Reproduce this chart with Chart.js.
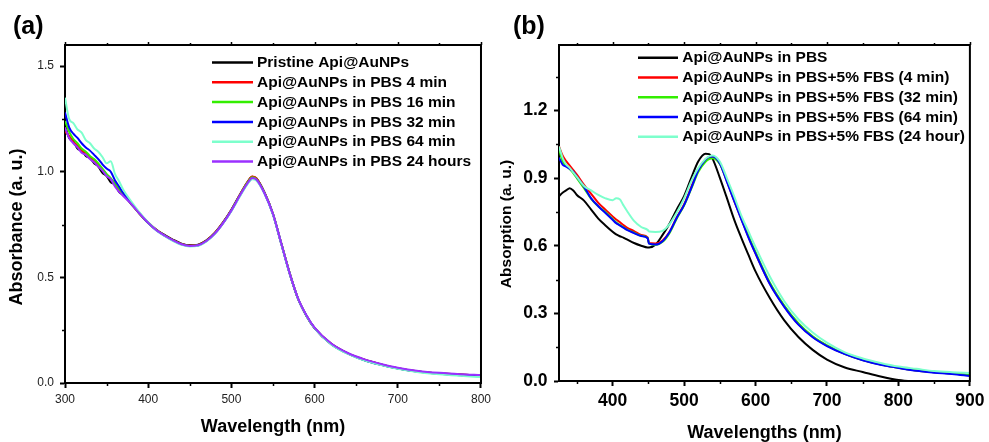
<!DOCTYPE html>
<html><head><meta charset="utf-8">
<script src="https://cdn.jsdelivr.net/npm/chart.js@4.4.0/dist/chart.umd.min.js"></script>
<style>
html,body{margin:0;padding:0;background:#fff;}
#wrap{position:relative;width:989px;height:442px;overflow:hidden;background:#fff;}
canvas{position:absolute;top:0;}
#ca{left:0;}
#cb{left:495px;}
</style></head><body>
<div id="wrap"><canvas id="ca" width="495" height="442"></canvas><canvas id="cb" width="494" height="442"></canvas></div>
<script>
// ---------- Panel (a) data ----------
const wavelengthA = [300,305,310,315,320,325,330,335,340,345,350,355,360,365,370,380,390,400,410,420,430,440,450,460,470,480,490,500,510,520,525,530,540,550,560,570,580,590,600,620,640,660,680,700,725,750,775,800];
const pristineA = [1.22,1.16,1.145,1.11,1.10,1.075,1.065,1.04,1.025,0.995,0.98,0.95,0.94,0.905,0.89, 0.845,0.80,0.76,0.725,0.70,0.678,0.66,0.652,0.655,0.675,0.71,0.76,0.82,0.89,0.955, 0.976,0.968, 0.90,0.80,0.66,0.52,0.40,0.32,0.26, 0.185,0.14,0.11,0.088,0.07, 0.055,0.046,0.04,0.035];
const pbs4minA = [1.19,1.17,1.14,1.125,1.10,1.09,1.065,1.055,1.03,1.01,0.985,0.965,0.945,0.915,0.895, 0.848,0.80,0.758,0.724,0.698,0.676,0.658,0.65,0.653,0.674,0.71,0.76,0.82,0.89,0.956, 0.978,0.97, 0.90,0.80,0.66,0.52,0.40,0.32,0.26, 0.185,0.14,0.11,0.088,0.07, 0.055,0.046,0.04,0.035];
const pbs16minA = [1.24,1.19,1.155,1.135,1.11,1.095,1.075,1.06,1.04,1.015,0.99,0.97,0.945,0.92,0.895, 0.848,0.80,0.757,0.723,0.697,0.675,0.657,0.649,0.652,0.673,0.708,0.758,0.818,0.888,0.953, 0.974,0.966, 0.899,0.80,0.66,0.52,0.40,0.32,0.26, 0.184,0.139,0.108,0.086,0.068, 0.053,0.044,0.038,0.033];
const pbs32minA = [1.28,1.21,1.18,1.16,1.135,1.115,1.10,1.08,1.06,1.035,1.015,1.00,0.96,0.93,0.90, 0.85,0.802,0.758,0.722,0.696,0.674,0.656,0.648,0.651,0.672,0.707,0.757,0.816,0.885,0.948, 0.968,0.962, 0.896,0.798,0.658,0.518,0.40,0.32,0.26, 0.184,0.139,0.108,0.086,0.068, 0.053,0.044,0.037,0.032];
const pbs64minA = [1.35,1.25,1.23,1.20,1.185,1.15,1.135,1.11,1.095,1.07,1.04,1.05,0.99,0.955,0.915, 0.858,0.805,0.76,0.722,0.695,0.672,0.654,0.646,0.649,0.67,0.705,0.755,0.814,0.882,0.945, 0.965,0.958, 0.895,0.797,0.658,0.518,0.40,0.32,0.26, 0.183,0.138,0.107,0.085,0.067, 0.051,0.041,0.034,0.028];
const pbs24hA = [1.21,1.16,1.135,1.115,1.09,1.08,1.06,1.045,1.025,1.005,0.98,0.965,0.93,0.905,0.885, 0.846,0.80,0.758,0.723,0.697,0.675,0.657,0.649,0.652,0.672,0.707,0.757,0.817,0.886,0.95, 0.97,0.963, 0.897,0.80,0.66,0.52,0.402,0.322,0.262, 0.187,0.142,0.112,0.09,0.072, 0.057,0.048,0.042,0.038];
const labelsA = ['Pristine Api@AuNPs','Api@AuNPs in PBS 4 min','Api@AuNPs in PBS 16 min','Api@AuNPs in PBS 32 min','Api@AuNPs in PBS 64 min','Api@AuNPs in PBS 24 hours'];
const xTicksA = [300,400,500,600,700,800];
const yTicksA = [0.0,0.5,1.0,1.5];

// ---------- Panel (b) data ----------
const wavelengthB = [325,330,335,340,345,350,360,370,380,390,400,405,410,415,420,430,440,449,451,460,470,480,490,500,510,520,530,535,540,550,560,570,580,590,600,620,640,660,680,700,725,750,775,800,825,850,875,900];
const pbsB = [0.82,0.835,0.845,0.855,0.845,0.825, 0.80,0.76,0.72,0.69,0.662, 0.65,0.642,0.636,0.628, 0.612,0.60, 0.592,0.592, 0.604,0.648,0.70,0.762,0.82,0.90,0.975,1.008, 1.006, 0.985,0.902,0.811,0.717,0.636,0.56,0.486, 0.368,0.27,0.195,0.138,0.095, 0.06,0.04,0.02,0.004,-0.004,-0.01,-0.015,-0.02];
const fbs4minB = [1.04,1.0,0.975,0.955,0.935,0.915, 0.87,0.83,0.79,0.76,0.73, 0.716,0.705,0.692,0.68, 0.665,0.648, 0.637,0.612, 0.61,0.623,0.663,0.727,0.783,0.86,0.937,0.982, 0.993, 0.995,0.965,0.886,0.80,0.72,0.64,0.566, 0.432,0.332,0.252,0.196,0.157, 0.12,0.093,0.073,0.059,0.047,0.039,0.033,0.026];
const fbs32minB = [1.03,0.975,0.955,0.94,0.922,0.90, 0.855,0.808,0.775,0.748,0.718, 0.703,0.692,0.682,0.672, 0.658,0.644, 0.634,0.61, 0.603,0.617,0.658,0.722,0.778,0.852,0.928,0.972, 0.984, 0.988,0.962,0.89,0.805,0.725,0.645,0.572, 0.437,0.336,0.256,0.198,0.158, 0.121,0.093,0.073,0.059,0.047,0.039,0.033,0.026];
const fbs64minB = [0.99,0.96,0.95,0.94,0.928,0.905, 0.862,0.81,0.775,0.745,0.715, 0.70,0.69,0.68,0.67, 0.656,0.643, 0.633,0.609, 0.605,0.62,0.662,0.725,0.78,0.855,0.935,0.982, 0.994, 0.996,0.966,0.883,0.80,0.718,0.637,0.565, 0.43,0.33,0.25,0.194,0.155, 0.119,0.092,0.072,0.058,0.045,0.037,0.031,0.022];
const fbs24hB = [1.04,0.99,0.96,0.945,0.925,0.905, 0.865,0.845,0.825,0.81,0.802, 0.81,0.806,0.78,0.755, 0.71,0.683, 0.67,0.663, 0.661,0.666,0.697,0.748,0.81,0.885,0.945,0.985, 0.996, 1.0,0.973,0.899,0.82,0.735,0.664,0.594, 0.463,0.355,0.274,0.215,0.17, 0.127,0.10,0.08,0.064,0.054,0.044,0.039,0.036];
const labelsB = ['Api@AuNPs in PBS','Api@AuNPs in PBS+5% FBS (4 min)','Api@AuNPs in PBS+5% FBS (32 min)','Api@AuNPs in PBS+5% FBS (64 min)','Api@AuNPs in PBS+5% FBS (24 hour)'];
const xTicksB = [400,500,600,700,800,900];
const yTicksB = [0.0,0.3,0.6,0.9,1.2];

// ---------- styling ----------
const FONT = '"Liberation Sans", Arial, Helvetica, sans-serif';
const colorsA = ['#000000','#ff0000','#33ee00','#0000ff','#7dffcc','#9b30ff'];
const colorsB = ['#000000','#ff0000','#33ee00','#0000ff','#7dffcc'];

function toPoints(xs, ys){ return xs.map((x,i)=>({x:x, y:ys[i]})); }

const decor = {
  id: 'decor',
  afterDatasetsDraw(chart, args, o) {
    const {ctx, chartArea: a, scales: {x, y}} = chart;
    ctx.save();
    ctx.strokeStyle = '#000';
    ctx.lineWidth = 2;
    ctx.beginPath();
    ctx.moveTo(a.left - 1, a.top); ctx.lineTo(a.right, a.top); ctx.lineTo(a.right, a.bottom + 1);
    ctx.stroke();
    ctx.lineWidth = 1.5;
    ctx.beginPath();
    for (let v = Math.ceil(x.min / o.xMinor) * o.xMinor; v <= x.max + 1e-9; v += o.xMinor) {
      const px = Math.round(x.getPixelForValue(v)) + 0.5;
      const major = Math.abs(v / o.xMajor - Math.round(v / o.xMajor)) < 1e-6;
      if (!major) { ctx.moveTo(px, a.bottom); ctx.lineTo(px, a.bottom + 3); }
      ctx.moveTo(px, a.top); ctx.lineTo(px, a.top - (major ? 3 : 2));
    }
    for (let v = Math.ceil(y.min / o.yMinor) * o.yMinor; v <= y.max + 1e-9; v += o.yMinor) {
      const major = Math.abs(v / o.yMajor - Math.round(v / o.yMajor)) < 1e-6;
      if (major) continue;
      const py = Math.round(y.getPixelForValue(v)) + 0.5;
      ctx.moveTo(a.left, py); ctx.lineTo(a.left - 3, py);
    }
    ctx.stroke();
    ctx.restore();
  },
  afterDraw(chart, args, o) {
    const ctx = chart.ctx;
    ctx.save();
    // legend
    ctx.font = 'bold ' + o.legendSize + 'px ' + FONT;
    ctx.textBaseline = 'middle';
    ctx.textAlign = 'left';
    chart.data.datasets.forEach((ds, i) => {
      const yy = o.legendY + i * o.legendGap;
      ctx.strokeStyle = ds.borderColor;
      ctx.lineWidth = 2.5;
      ctx.beginPath(); ctx.moveTo(o.legendX1, yy); ctx.lineTo(o.legendX2, yy); ctx.stroke();
      ctx.fillStyle = '#000';
      ctx.fillText(ds.label, o.legendTextX, yy + 0.5);
    });
    // y-axis title
    ctx.save();
    ctx.font = 'bold ' + o.yTitleSize + 'px ' + FONT;
    ctx.textAlign = 'center';
    ctx.textBaseline = 'middle';
    ctx.translate(o.yTitleX, o.yTitleY);
    ctx.rotate(-Math.PI / 2);
    ctx.fillText(o.yTitle, 0, 0);
    ctx.restore();
    // panel label
    ctx.font = 'bold 25px ' + FONT;
    ctx.textBaseline = 'alphabetic';
    ctx.textAlign = 'left';
    ctx.fillStyle = '#000';
    ctx.fillText(o.panel, o.panelX, o.panelY);
    ctx.restore();
  }
};

function makeChart(id, xs, series, labels, colors, opt) {
  const n = series.length;
  const datasets = series.map((s, i) => ({
    label: labels[i], data: toPoints(xs, s), borderColor: colors[i], backgroundColor: colors[i],
    borderWidth: 2, pointRadius: 0, fill: false, cubicInterpolationMode: 'monotone', order: n - i
  }));
  return new Chart(document.getElementById(id), {
    type: 'line',
    data: { datasets },
    plugins: [decor],
    options: {
      responsive: false, animation: false, devicePixelRatio: 1,
      layout: { padding: opt.padding },
      plugins: { legend: { display: false }, tooltip: { enabled: false }, decor: opt.decor },
      scales: {
        x: {
          type: 'linear', min: opt.xMin, max: opt.xMax,
          afterBuildTicks: s => { s.ticks = opt.xTicks.map(v => ({ value: v })); },
          afterFit: s => { s.height = opt.xHeight; },
          grid: { display: true, drawOnChartArea: false, drawTicks: true, tickLength: 5, tickWidth: 2, tickColor: '#000' },
          border: { display: true, color: '#000', width: 2 },
          ticks: { font: opt.tickFont, color: opt.tickColor, padding: opt.xTickPad, maxRotation: 0, autoSkip: false, callback: v => String(v) },
          title: { display: true, text: opt.xTitle, color: '#000', font: { family: FONT, size: opt.xTitleSize, weight: 'bold', lineHeight: 1 }, padding: { top: 0, bottom: opt.xTitlePad } }
        },
        y: {
          type: 'linear', min: opt.yMin, max: opt.yMax,
          afterBuildTicks: s => { s.ticks = opt.yTicks.map(v => ({ value: v })); },
          afterFit: s => { s.width = opt.yWidth; },
          grid: { display: true, drawOnChartArea: false, drawTicks: true, tickLength: 5, tickWidth: 2, tickColor: '#000' },
          border: { display: true, color: '#000', width: 2 },
          ticks: { font: opt.tickFont, color: opt.tickColor, padding: opt.yTickPad, autoSkip: false, callback: v => Number(v).toFixed(1) },
          title: { display: false }
        }
      }
    }
  });
}

makeChart('ca', wavelengthA, [pristineA, pbs4minA, pbs16minA, pbs32minA, pbs64minA, pbs24hA], labelsA, colorsA, {
  padding: { top: 45, right: 11, bottom: 0, left: 0 },
  xMin: 300, xMax: 800, yMin: 0, yMax: 1.6, xTicks: xTicksA, yTicks: yTicksA,
  xHeight: 59, yWidth: 65,
  tickFont: { family: FONT, size: 12 }, tickColor: '#222', xTickPad: 4, yTickPad: 6,
  xTitle: 'Wavelength (nm)', xTitleSize: 18, xTitlePad: 6.3,
  decor: { xMinor: 50, xMajor: 100, yMinor: 0.25, yMajor: 0.5,
    legendSize: 15.5, legendY: 62.5, legendGap: 19.8, legendX1: 212, legendX2: 253, legendTextX: 257,
    yTitle: 'Absorbance (a. u.)', yTitleSize: 18, yTitleX: 17, yTitleY: 227,
    panel: '(a)', panelX: 13, panelY: 34 }
});

makeChart('cb', wavelengthB, [pbsB, fbs4minB, fbs32minB, fbs64minB, fbs24hB], labelsB, colorsB, {
  padding: { top: 45, right: 15, bottom: 0, left: 0 },
  xMin: 325, xMax: 900, yMin: 0, yMax: 1.49, xTicks: xTicksB, yTicks: yTicksB,
  xHeight: 61, yWidth: 64,
  tickFont: { family: FONT, size: 17.5, weight: 'bold' }, tickColor: '#000', xTickPad: 4.5, yTickPad: 6.5,
  xTitle: 'Wavelengths (nm)', xTitleSize: 18, xTitlePad: 0.3,
  decor: { xMinor: 50, xMajor: 100, yMinor: 0.15, yMajor: 0.3,
    legendSize: 15.5, legendY: 57.7, legendGap: 19.75, legendX1: 143, legendX2: 183, legendTextX: 187.3,
    yTitle: 'Absorption (a. u.)', yTitleSize: 15.5, yTitleX: 12, yTitleY: 224,
    panel: '(b)', panelX: 18, panelY: 34 }
});
</script></body></html>
